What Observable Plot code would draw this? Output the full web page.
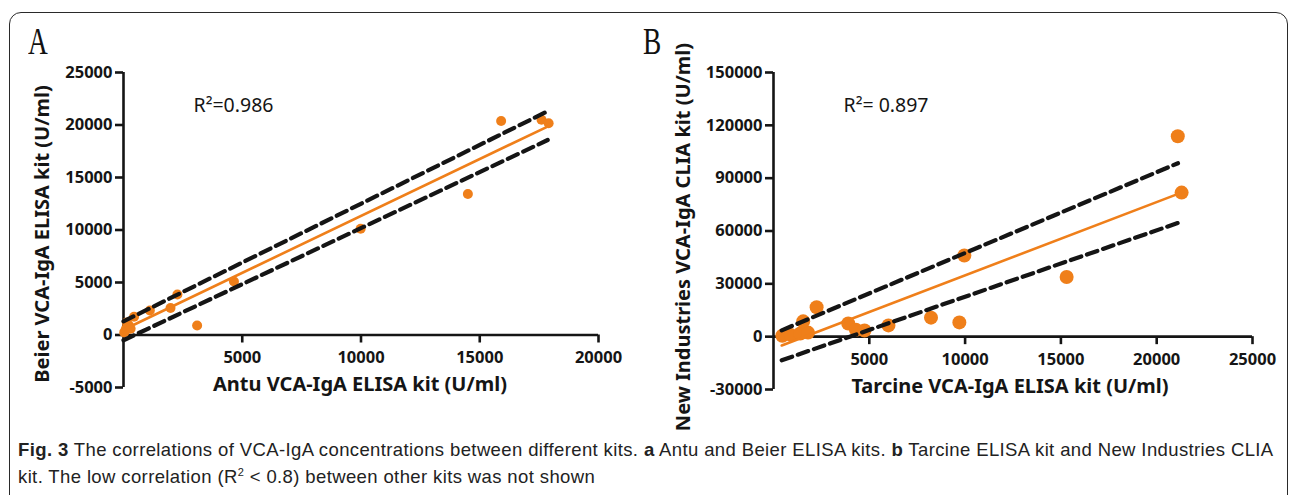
<!DOCTYPE html>
<html><head><meta charset="utf-8">
<script src="https://cdn.jsdelivr.net/npm/d3@7"></script>
<script src="https://cdn.jsdelivr.net/npm/@observablehq/plot@0.6"></script>
<style>
html,body{margin:0;padding:0;background:#fff}
body{width:1290px;height:495px;overflow:hidden;position:relative;font-family:"Liberation Sans",Arial,sans-serif}
#frame{position:absolute;left:9px;top:12px;width:1279px;height:540px;border:1.6px solid #2a2a2a;border-radius:12px;box-sizing:border-box}
.panel{position:absolute;top:0}
#pa{left:0}
#pb{left:640px}
.letter{position:absolute;top:22px;font-family:"Liberation Serif","DejaVu Serif",serif;font-size:38px;line-height:38px;transform:scaleX(0.72);transform-origin:left top;color:#111}
#caption{position:absolute;left:18px;top:436px;font-family:"Liberation Sans",Arial,sans-serif;font-size:18.5px;letter-spacing:0.38px;line-height:27px;color:#222;white-space:nowrap}
#caption b{font-weight:bold}
</style>
</head><body>
<div id="frame"></div>
<div class="letter" style="left:28px">A</div>
<div class="letter" style="left:643px">B</div>
<div id="pa" class="panel"></div>
<div id="pb" class="panel"></div>
<div id="caption"><b>Fig. 3</b> The correlations of VCA-IgA concentrations between different kits. <b>a</b> Antu and Beier ELISA kits. <b>b</b> Tarcine ELISA kit and New Industries CLIA<br>kit. The low correlation (R<sup style="font-size:11px;line-height:0">2</sup> &lt; 0.8) between other kits was not shown</div>
<script>
// ---------- Panel A data ----------
const antuX  = [30, 100, 230, 140, 300, 445, 1110, 1980, 2270, 3100, 4650, 9985, 14500, 15900, 17600, 17900];
const beierY = [250, 570, 900, 1200, 600, 1740, 2330, 2570, 3850, 900, 5100, 10120, 13430, 20380, 20500, 20160];
const fitAX = [0, 17900];
const fitAY = [500, 19900];
const upperAX = [0, 17940];
const upperAY = [1300, 21400];
const lowerAX = [0, 17860];
const lowerAY = [-500, 18570];
const xTicksA = [5000, 10000, 15000, 20000];
const yTicksA = [-5000, 0, 5000, 10000, 15000, 20000, 25000];
const r2A = "R²=0.986";
const xLabelA = "Antu VCA-IgA ELISA kit (U/ml)";
const yLabelA = "Beier VCA-IgA ELISA kit (U/ml)";

// ---------- Panel B data ----------
const tarcineX = [460, 900, 1400, 1800, 1550, 2250, 3900, 4300, 4750, 6000, 8220, 9700, 9960, 15300, 21100, 21300];
const newIndY  = [500, 1000, 1800, 2300, 8700, 16700, 7500, 3900, 3500, 6400, 10800, 8100, 46100, 33900, 113800, 81800];
const fitBX = [430, 21220];
const fitBY = [-5000, 81500];
const upperBX = [430, 21110];
const upperBY = [3600, 98500];
const lowerBX = [430, 21330];
const lowerBY = [-13400, 65400];
const xTicksB = [5000, 10000, 15000, 20000, 25000];
const yTicksB = [-30000, 0, 30000, 60000, 90000, 120000, 150000];
const r2B = "R²= 0.897";
const xLabelB = "Tarcine VCA-IgA ELISA kit (U/ml)";
const yLabelB = "New Industries VCA-IgA CLIA kit (U/ml)";

const ORANGE = "#ef7f1a";
const INK = "#151515";

function pairLine(xs, ys, opts) {
  return Plot.line(d3.range(xs.length), {x: i => xs[i], y: i => ys[i], ...opts});
}

function panel(cfg) {
  return Plot.plot({
    width: cfg.width, height: 440,
    marginLeft: cfg.ml, marginRight: cfg.mr, marginTop: 72, marginBottom: cfg.mb,
    x: {domain: cfg.xDomain, axis: null},
    y: {domain: cfg.yDomain, axis: null},
    style: {background: "transparent", overflow: "visible", color: INK},
    marks: [
      Plot.ruleX([0], {stroke: INK, strokeWidth: 2.6}),
      Plot.ruleY([0], {stroke: INK, strokeWidth: 2.6}),
      Plot.ruleY(cfg.yTicks, {y: d => d, x1: () => 0, x2: () => 0, insetLeft: -8, stroke: INK, strokeWidth: 2.6}),
      Plot.text(cfg.yTicks, {y: d => d, x: () => 0, dx: -11, text: d => String(d), textAnchor: "end",
        fontSize: 16.5, fontWeight: "bold", fill: INK}),
      Plot.ruleX(cfg.xTicks, {x: d => d, y1: () => 0, y2: () => 0, insetBottom: -8, stroke: INK, strokeWidth: 2.6}),
      Plot.text(cfg.xTicks, {x: d => d, y: () => 0, dy: 23, text: d => String(d),
        fontSize: 16.5, fontWeight: "bold", fill: INK}),
      Plot.text([cfg.yLabel], {frameAnchor: "left", rotate: -90, textAnchor: "middle", dx: cfg.yLabelDx, dy: cfg.yLabelDy,
        fontSize: 20, fontWeight: "bold", fill: INK}),
      Plot.text([cfg.xLabel], {frameAnchor: "bottom", textAnchor: "middle", dx: cfg.xLabelDx, dy: 3,
        fontSize: 20, fontWeight: "bold", fill: INK}),
      Plot.text([cfg.r2], {frameAnchor: "top-left", dx: cfg.r2Dx, dy: 26, textAnchor: "start",
        fontSize: 19.5, fill: INK}),
      Plot.dot(d3.range(cfg.px.length), {x: i => cfg.px[i], y: i => cfg.py[i], r: cfg.r, fill: ORANGE, stroke: "none"}),
      pairLine(cfg.fitX, cfg.fitY, {stroke: ORANGE, strokeWidth: 2.6}),
      pairLine(cfg.upX, cfg.upY, {stroke: INK, strokeWidth: 4.2, strokeDasharray: "11,6"}),
      pairLine(cfg.loX, cfg.loY, {stroke: INK, strokeWidth: 4.2, strokeDasharray: "11,6"})
    ]
  });
}

document.getElementById("pa").append(panel({
  width: 640, ml: 123, mr: 42, mb: 53,
  xDomain: [0, 20000], yDomain: [-5000, 25000],
  xTicks: xTicksA, yTicks: yTicksA,
  xLabel: xLabelA, yLabel: yLabelA, xLabelDx: -1, yLabelDx: -81, yLabelDy: 4,
  r2: r2A, r2Dx: 70,
  px: antuX, py: beierY, r: 5,
  fitX: fitAX, fitY: fitAY, upX: upperAX, upY: upperAY, loX: lowerAX, loY: lowerAY
}));

document.getElementById("pb").append(panel({
  width: 650, ml: 133, mr: 38, mb: 51,
  xDomain: [0, 25000], yDomain: [-30000, 150000],
  xTicks: xTicksB, yTicks: yTicksB,
  xLabel: xLabelB, yLabel: yLabelB, xLabelDx: -3, yLabelDx: -90, yLabelDy: 6,
  r2: r2B, r2Dx: 70,
  px: tarcineX, py: newIndY, r: 7,
  fitX: fitBX, fitY: fitBY, upX: upperBX, upY: upperBY, loX: lowerBX, loY: lowerBY
}));
</script>
</body></html>
